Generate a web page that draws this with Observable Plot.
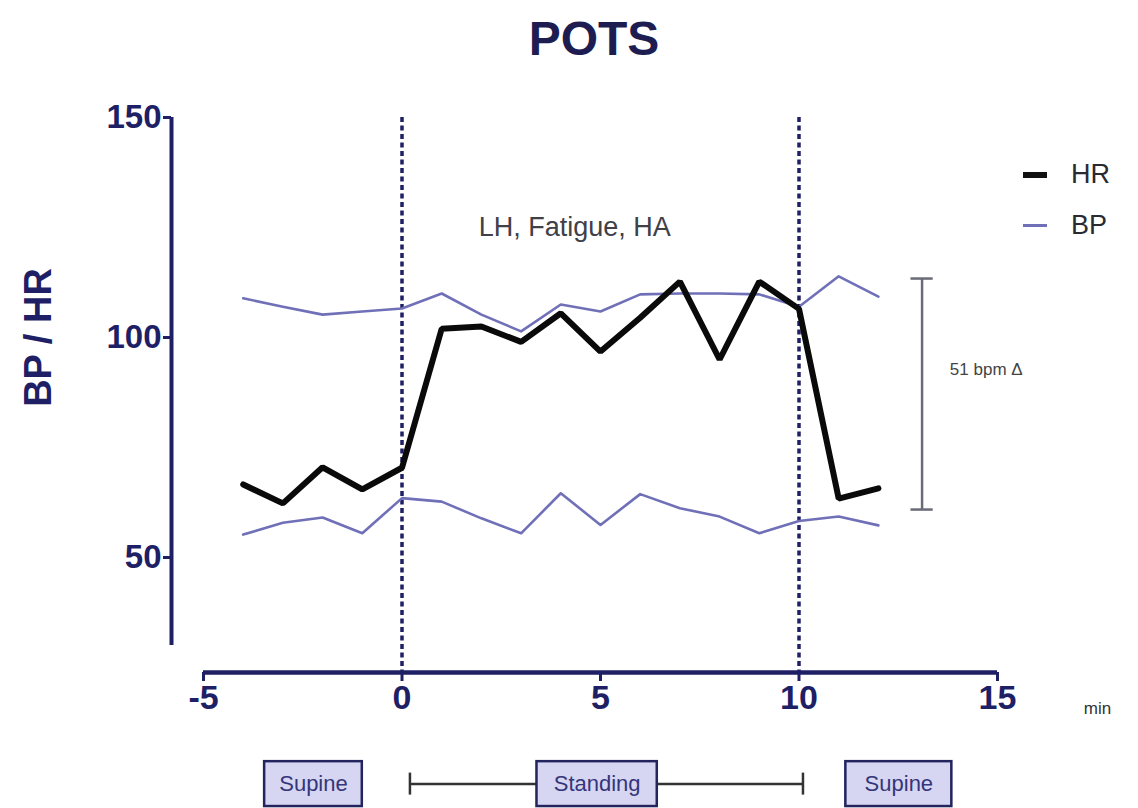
<!DOCTYPE html>
<html>
<head>
<meta charset="utf-8">
<script src="https://cdn.jsdelivr.net/npm/d3@7"></script>
<script src="https://cdn.jsdelivr.net/npm/@observablehq/plot@0.6"></script>
<style>
  body { margin: 0; background: #fff; font-family: "Liberation Sans", Arial, sans-serif; }
  #wrap { position: relative; width: 1138px; height: 808px; overflow: hidden; }
  #title { position: absolute; left: 494px; width: 200px; top: 11px; text-align: center;
           font-size: 48px; font-weight: bold; color: #1d1d52; }
  .leg { position: absolute; left: 1023px; font-size: 27px; color: #2a2a33; display: flex; align-items: center; }
  .leg span.sw { display: inline-block; width: 24px; margin-right: 24px; }
  #chart { position: absolute; left: 0; top: 0; }
</style>
</head>
<body>
<div id="wrap">
  <div id="chart"></div>
  <div id="title">POTS</div>
  <div class="leg" style="top:159px"><span class="sw" style="height:6px;background:#111;"></span>HR</div>
  <div class="leg" style="top:210px"><span class="sw" style="height:3px;background:#7070b8;"></span>BP</div>
</div>
<script>
// ---- data ----
const minutes = [-4, -3, -2, -1, 0, 1, 2, 3, 4, 5, 6, 7, 8, 9, 10, 11, 12];
const hr      = [66.6, 62.3, 70.5, 65.5, 70.4, 102, 102.5, 99, 105.5, 96.8, 104.5, 112.7, 95, 112.7, 106.5, 63.4, 65.7];
const bpSys   = [108.9, 107, 105.2, 105.9, 106.6, 110, 105.2, 101.4, 107.5, 105.9, 109.8, 110, 110, 109.8, 107, 113.9, 109.3];
const bpDia   = [55.2, 57.9, 59.1, 55.5, 63.5, 62.7, 58.9, 55.5, 64.6, 57.4, 64.4, 61.2, 59.3, 55.5, 58.3, 59.3, 57.3];
const xTicks = [-5, 0, 5, 10, 15];
const yTicks = [50, 100, 150];
const eventMinutes = [0, 10];           // stand up / lie down
const phaseLabels = ["Supine", "Standing", "Supine"];
const phaseStart = [-3.46, 3.40, 11.18];
const phaseEnd   = [-1.0, 6.43, 13.85];
const standingSpan = [0.2, 10.1];
const deltaLabel = "51 bpm \u0394";
const deltaRange = [60.9, 113.4];
const deltaMinute = 13.1;
const symptomLabel = "LH, Fatigue, HA";
const yTitle = "BP / HR";

// ---- build tables ----
const hrData = minutes.map((m, i) => ({m, v: hr[i]}));
const sysData = minutes.map((m, i) => ({m, v: bpSys[i]}));
const diaData = minutes.map((m, i) => ({m, v: bpDia[i]}));
const phases = phaseLabels.map((label, i) => ({label, a: phaseStart[i], b: phaseEnd[i]}));

const navy = "#1f1f66";
const bpColor = "#7070b8";
const boxY = [-6.6, 3.6];
const rowY = -1.5;

const chart = Plot.plot({
  width: 1138,
  height: 808,
  marginLeft: 203,
  marginRight: 141,
  marginTop: 117,
  marginBottom: 163,
  style: {fontFamily: "'Liberation Sans', Arial, sans-serif", background: "#fff", overflow: "visible"},
  x: {domain: [-5, 15]},
  y: {domain: [30, 150]},
  marks: [
    // offset axes lines
    Plot.ruleX([-5], {y1: 30, y2: 150, dx: -32, stroke: navy, strokeWidth: 4}),
    Plot.ruleY([30], {x1: -5, x2: 15, dy: 27, stroke: navy, strokeWidth: 4.5}),
    Plot.axisY({ticks: yTicks, dx: -32, tickSize: 8, tickPadding: 2, stroke: navy, strokeWidth: 3,
                fill: navy, fontSize: 33, fontWeight: "bold", label: null, tickFormat: d => String(d)}),
    Plot.axisX({ticks: xTicks, dy: 27, tickSize: 9, tickPadding: 3, stroke: navy, strokeWidth: 3,
                fill: navy, fontSize: 34, fontWeight: "bold", label: null, tickFormat: d => String(d)}),
    // dotted event lines
    Plot.ruleX(eventMinutes, {y1: 150, y2: 23.9, stroke: navy, strokeWidth: 3.5, strokeDasharray: "5,3.5"}),
    // blood pressure
    Plot.line(sysData, {x: "m", y: "v", stroke: bpColor, strokeWidth: 2.6}),
    Plot.line(diaData, {x: "m", y: "v", stroke: bpColor, strokeWidth: 2.6}),
    // heart rate
    Plot.line(hrData, {x: "m", y: "v", stroke: "#0a0a0a", strokeWidth: 6, strokeLinejoin: "miter"}),
    // delta bracket
    Plot.ruleX([deltaMinute], {y1: deltaRange[0], y2: deltaRange[1], stroke: "#6a6a78", strokeWidth: 2.5}),
    Plot.ruleY(deltaRange, {x1: deltaMinute - 0.28, x2: deltaMinute + 0.28, stroke: "#6a6a78", strokeWidth: 2.5}),
    Plot.text([deltaLabel], {x: deltaMinute + 0.7, y: (deltaRange[0] + deltaRange[1]) / 2 + 5.5,
               textAnchor: "start", fontSize: 17, fill: "#444"}),
    // symptom annotation
    Plot.text([symptomLabel], {x: 4.35, y: 125, fontSize: 27, fill: "#404048"}),
    // y label
    Plot.text([yTitle], {y: [100], frameAnchor: "left", textAnchor: "middle", rotate: -90, dx: -165,
               fontSize: 38, fontWeight: "bold", fill: navy}),
    // x unit
    Plot.text(["min"], {x: [15], frameAnchor: "bottom", dx: 100, dy: 68, fontSize: 17, fill: "#333"}),
    // posture timeline
    Plot.ruleY([rowY], {x1: standingSpan[0], x2: standingSpan[1], stroke: "#333", strokeWidth: 2.5}),
    Plot.ruleX(standingSpan, {y1: rowY - 2.5, y2: rowY + 2.5, stroke: "#333", strokeWidth: 2.5}),
    Plot.rect(phases, {x1: "a", x2: "b", y1: boxY[0], y2: boxY[1],
                       fill: "#d6d6f2", stroke: "#23235e", strokeWidth: 2.5}),
    Plot.text(phases, {x: d => (d.a + d.b) / 2, y: rowY, text: "label", fontSize: 22, fill: "#35357a"})
  ]
});
document.getElementById("chart").appendChild(chart);
</script>
</body>
</html>
